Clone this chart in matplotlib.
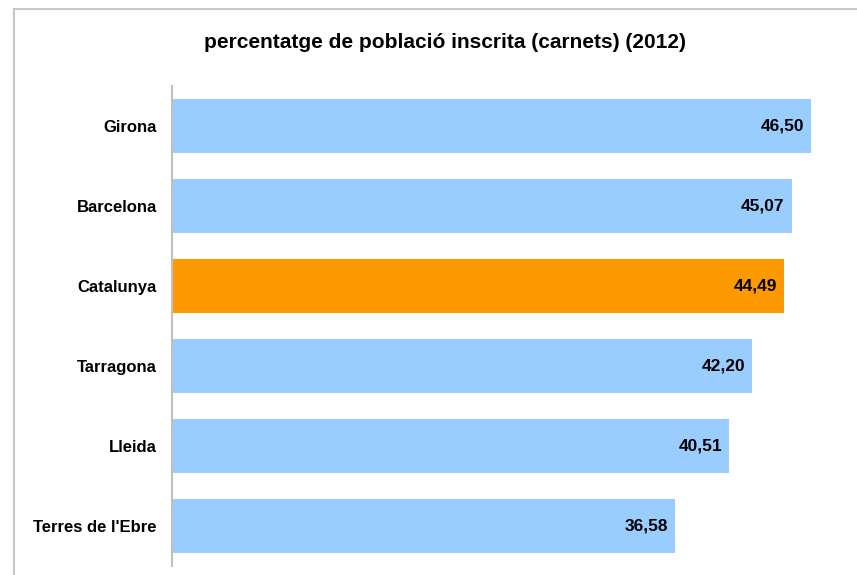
import matplotlib
matplotlib.use("Agg")
import matplotlib.pyplot as plt
from matplotlib.patches import Rectangle

plt.rcParams['font.family'] = ['Liberation Sans', 'DejaVu Sans']

#----------- Dades -----------#
territoris = ["Girona", "Barcelona", "Catalunya", "Tarragona", "Lleida", "Terres de l'Ebre"]
percentatge = [46.50, 45.07, 44.49, 42.20, 40.51, 36.58]
colors = ["#99CCFF", "#99CCFF", "#FF9900", "#99CCFF", "#99CCFF", "#99CCFF"]
titol = "percentatge de població inscrita (carnets) (2012)"

W, H = 857, 575
fig = plt.figure(figsize=(W / 100, H / 100), dpi=100)

# marc gris al voltant del grafic
fig.patches.append(Rectangle((14 / W, -0.05), 1.1, 1 - 9 / H + 0.05, transform=fig.transFigure,
                             fill=False, edgecolor="#C8C8C8", linewidth=1.5))

# eixos: x de 0 a 50, 13.75 px per unitat
ax = fig.add_axes([172 / W, (H - 566) / H, 50 * 13.75 / W, 480 / H])
y = list(range(len(territoris)))
ax.barh(y, percentatge, height=0.675, color=colors)
ax.set_xlim(0, 50)
ax.set_ylim(len(territoris) - 0.5, -0.5)

ax.set_yticks(y)
ax.set_yticklabels(territoris, fontsize=12, fontweight="bold")
ax.tick_params(axis="y", length=0, pad=11)
ax.set_xticks([])
for s in ["top", "right", "bottom"]:
    ax.spines[s].set_visible(False)
ax.spines["left"].set_color("#C0C0C0")
ax.spines["left"].set_linewidth(1.5)

for yi, v in zip(y, percentatge):
    ax.annotate(f"{v:.2f}".replace(".", ","), (v, yi), xytext=(-7, 0), textcoords="offset pixels",
                ha="right", va="center", fontsize=12.5, fontweight="bold")

fig.text(445 / W, 1 - 42 / H, titol, ha="center", va="center", fontsize=15, fontweight="bold")

fig.savefig("out.png", dpi=100)
